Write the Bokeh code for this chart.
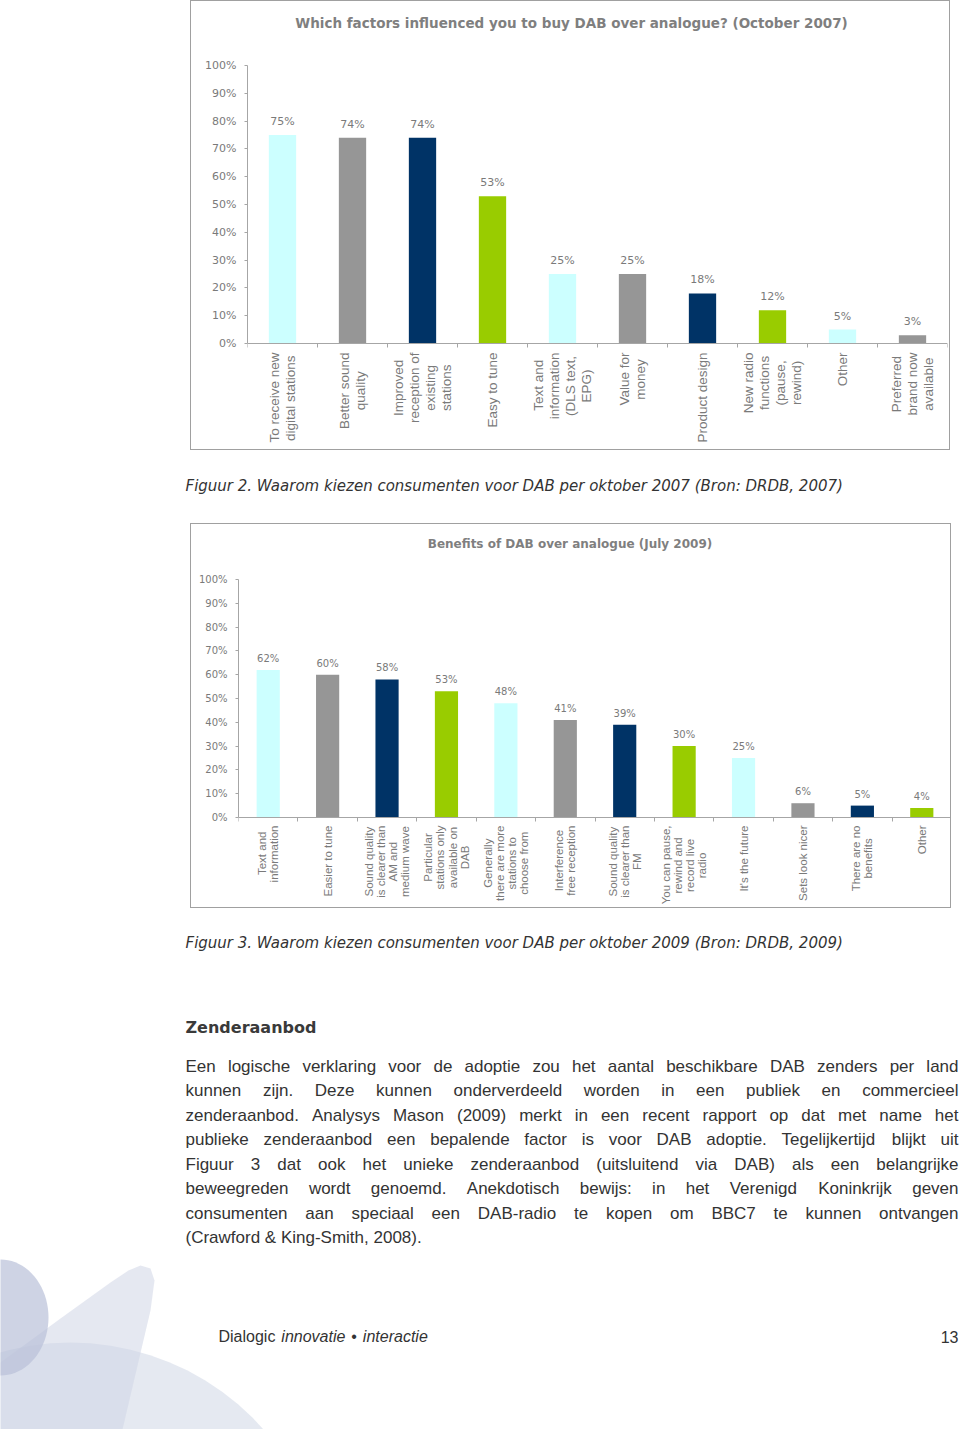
import math
from bokeh.plotting import figure
from bokeh.models import Range1d, FixedTicker, NumeralTickFormatter, ColumnDataSource, Spacer
from bokeh.layouts import column, row
from bokeh.embed import file_html
from bokeh.resources import INLINE
from bokeh.core.properties import value

# ---------------- data ----------------
fig2_title = "Which factors influenced you to buy DAB over analogue? (October 2007)"
fig2_categories = [
    "To receive new\ndigital stations",
    "Better sound\nquality",
    "Improved\nreception of\nexisting\nstations",
    "Easy to tune",
    "Text and\ninformation\n(DLS text,\nEPG)",
    "Value for\nmoney",
    "Product design",
    "New radio\nfunctions\n(pause,\nrewind)",
    "Other",
    "Preferred\nbrand now\navailable",
]
fig2_values = [0.75, 0.74, 0.74, 0.53, 0.25, 0.25, 0.18, 0.12, 0.05, 0.03]

fig3_title = "Benefits of DAB over analogue (July 2009)"
fig3_categories = [
    "Text and\ninformation",
    "Easier to tune",
    "Sound quality\nis clearer than\nAM and\nmedium wave",
    "Particular\nstations only\navailable on\nDAB",
    "Generally\nthere are more\nstations to\nchoose from",
    "Interference\nfree reception",
    "Sound quality\nis clearer than\nFM",
    "You can pause,\nrewind and\nrecord live\nradio",
    "It's the future",
    "Sets look nicer",
    "There are no\nbenefits",
    "Other",
]
fig3_values = [0.62, 0.60, 0.58, 0.53, 0.48, 0.41, 0.39, 0.30, 0.25, 0.06, 0.05, 0.04]

bar_palette = ["#CCFFFF", "#969696", "#003366", "#99CC00"]
y_ticks = [0.0, 0.1, 0.2, 0.3, 0.4, 0.5, 0.6, 0.7, 0.8, 0.9, 1.0]

caption_2007 = "Figuur 2. Waarom kiezen consumenten voor DAB per oktober 2007 (Bron: DRDB, 2007)"
caption_2009 = "Figuur 3. Waarom kiezen consumenten voor DAB per oktober 2009 (Bron: DRDB, 2009)"
heading = "Zenderaanbod"
paragraph_lines = [
    "Een logische verklaring voor de adoptie zou het aantal beschikbare DAB zenders per land",
    "kunnen zijn. Deze kunnen onderverdeeld worden in een publiek en commercieel",
    "zenderaanbod. Analysys Mason (2009) merkt in een recent rapport op dat met name het",
    "publieke zenderaanbod een bepalende factor is voor DAB adoptie. Tegelijkertijd blijkt uit",
    "Figuur 3 dat ook het unieke zenderaanbod (uitsluitend via DAB) als een belangrijke",
    "beweegreden wordt genoemd. Anekdotisch bewijs: in het Verenigd Koninkrijk geven",
    "consumenten aan speciaal een DAB-radio te kopen om BBC7 te kunnen ontvangen",
    "(Crawford & King-Smith, 2008).",
]
footer_parts = [("Dialogic", "normal"), ("innovatie", "italic"), ("\u2022", "normal"), ("interactie", "italic")]
page_number = "13"

# ---------------- styling helpers ----------------
AXIS_GREY = "#a6a6a6"
TEXT_GREY = "#7a7a7a"
BORDER = "1px solid #a0a0a0"

ARIAL = {" ": 278, "!": 278, "&": 667, "'": 191, "(": 333, ")": 333, ",": 278, "-": 333, ".": 278,
         ":": 278, "\u2022": 350}
for ch in "0123456789":
    ARIAL[ch] = 556
ARIAL.update(dict(zip("ABCDEFGHIJKLMNOPQRSTUVWXYZ",
                      [667, 667, 722, 722, 667, 611, 778, 722, 278, 500, 667, 556, 833, 722, 778, 667,
                       778, 722, 667, 611, 722, 667, 944, 667, 667, 611])))
ARIAL.update(dict(zip("abcdefghijklmnopqrstuvwxyz",
                      [556, 556, 500, 556, 556, 278, 556, 556, 222, 222, 500, 222, 833, 556, 556, 556,
                       556, 333, 500, 278, 556, 500, 722, 500, 500, 500])))


def text_width(s, size):
    return sum(ARIAL.get(c, 556) for c in s) * size / 1000.0


def bar_chart(title, cats, vals, cfg):
    """cfg holds canvas size and the pixel box of the 0..100% plotting area."""
    n = len(cats)
    w, h = cfg["w"], cfg["h"]
    fl, fr, ft, fb = cfg["fl"], cfg["fr"], cfg["ft"], cfg["fb"]   # canvas px of 0%/100% box
    py = float(fb - ft)              # px per y unit
    px = float(fr - fl) / n          # px per category
    y_top = 1.0 + ft / py            # frame reaches the top of the canvas
    y_bot = -(h - fb) / py           # ... and the bottom of the canvas
    xs = [i + 0.5 for i in range(n)]
    src = ColumnDataSource(dict(
        x=xs, top=vals,
        color=[bar_palette[i % len(bar_palette)] for i in range(n)],
        label=["%d%%" % round(v * 100) for v in vals],
    ))
    p = figure(width=w, height=h, x_range=Range1d(0, n), y_range=Range1d(y_bot, y_top),
               output_backend="svg", toolbar_location=None,
               min_border_left=fl, min_border_right=w - fr,
               min_border_top=0, min_border_bottom=0,
               styles={"border": BORDER})
    p.vbar(x="x", top="top", width=cfg["bar"], fill_color="color", line_color=None, source=src)
    p.text(x="x", y="top", text="label", source=src, text_align="center", text_baseline="bottom",
           y_offset=-cfg["gap"], text_font=value("DejaVu Sans"), text_font_size=cfg["val_fs"],
           text_color=TEXT_GREY)

    # chart title, centred on the whole box
    tx = (cfg["title_x"] - fl) / (fr - fl) * n
    ty = 1.0 + (ft - cfg["title_y"]) / py
    p.text(x=[tx], y=[ty], text=[title], text_align="center", text_baseline="middle",
           text_font=value("DejaVu Sans"), text_font_style="bold", text_font_size=cfg["title_fs"],
           text_color="#7f7f7f")

    # category labels: rotated, lines centred on each other (as in the original)
    lx, ly, lt = [], [], []
    fs, lh = cfg["cat_fs"], cfg["cat_lh"]
    for i, cat in enumerate(cats):
        lines = cat.split("\n")
        m = len(lines)
        lw = [text_width(s, fs) for s in lines]
        block = max(lw)
        for k, (s, wv) in enumerate(zip(lines, lw)):
            lx.append(i + 0.5 + (k - (m - 1) / 2.0) * lh / px)
            ly.append(-(cfg["cat_standoff"] + (block - wv) / 2.0) / py)
            lt.append(s)
    p.text(x="x", y="y", text="text", source=ColumnDataSource(dict(x=lx, y=ly, text=lt)),
           angle=math.pi / 2, text_align="right", text_baseline="middle",
           text_font=value("Liberation Sans"), text_font_size="%.1fpx" % fs, text_color=TEXT_GREY)

    xa = p.xaxis[0]
    xa.fixed_location = 0
    xa.ticker = FixedTicker(ticks=[], minor_ticks=list(range(n + 1)))
    xa.major_label_text_font_size = "0px"
    xa.major_label_standoff = 0
    xa.major_tick_line_color = None
    xa.major_tick_in = 0
    xa.major_tick_out = 0
    xa.minor_tick_line_color = AXIS_GREY
    xa.minor_tick_in = 0
    xa.minor_tick_out = 4
    xa.axis_line_color = AXIS_GREY

    ya = p.yaxis[0]
    ya.bounds = (0, 1)
    ya.ticker = FixedTicker(ticks=y_ticks)
    ya.formatter = NumeralTickFormatter(format="0%")
    ya.axis_line_color = AXIS_GREY
    ya.major_tick_line_color = AXIS_GREY
    ya.major_tick_in = 0
    ya.major_tick_out = 3
    ya.minor_tick_line_color = None
    ya.major_label_standoff = cfg["tick_standoff"]
    ya.major_label_text_font = "DejaVu Sans"
    ya.major_label_text_font_size = cfg["tick_fs"]
    ya.major_label_text_color = TEXT_GREY

    p.xgrid.visible = False
    p.ygrid.visible = False
    p.outline_line_color = None
    p.background_fill_color = "white"
    p.border_fill_color = "white"
    return p


def page_fig(top, height):
    p = figure(width=960, height=height, x_range=Range1d(0, 960), y_range=Range1d(top + height, top),
               output_backend="svg", toolbar_location=None, min_border=0,
               x_axis_location=None, y_axis_location=None)
    p.grid.visible = False
    p.outline_line_color = None
    p.background_fill_color = "white"
    p.border_fill_color = "white"
    return p


# ---------------- charts ----------------
# canvas 1 starts at page (191, 1); canvas 2 at page (191, 524)
chart1 = bar_chart(fig2_title, fig2_categories, fig2_values, dict(
    w=760, h=450, fl=56, fr=756, ft=64, fb=342, bar=0.39, gap=7, val_fs="11px",
    title_x=380, title_y=21, title_fs="13.5px",
    cat_standoff=9, cat_fs=13.5, cat_lh=15.8, tick_standoff=8, tick_fs="11px"))

chart2 = bar_chart(fig3_title, fig3_categories, fig3_values, dict(
    w=761, h=385, fl=47, fr=760, ft=55, fb=293, bar=0.39, gap=6, val_fs="10px",
    title_x=378.5, title_y=19, title_fs="12px",
    cat_standoff=8, cat_fs=11.5, cat_lh=12.2, tick_standoff=8, tick_fs="10px"))

# ---------------- page parts ----------------
mid = page_fig(452, 71)
mid.text(x=[185], y=[485], text=[caption_2007], text_font=value("DejaVu Sans"), text_font_style="italic",
         text_font_size="15px", text_color="#333333", text_baseline="middle", text_align="left")

bottom = page_fig(910, 519)

# decorative shapes (bottom-left)
def ellipse_pts(cx, cy, rx, ry, ang=0.0, n=80):
    xs, ys = [], []
    for k in range(n):
        t = 2 * math.pi * k / n
        ex, ey = rx * math.cos(t), ry * math.sin(t)
        xs.append(cx + ex * math.cos(ang) - ey * math.sin(ang))
        ys.append(cy + ex * math.sin(ang) + ey * math.cos(ang))
    return xs, ys

sx1, sy1 = ellipse_pts(70, 1600, 258, 258)
sx2, sy2 = ellipse_pts(0, 1317, 48, 58)
# leaf / rounded triangle with apex top-right
leaf_x = [0, 60, 110, 128, 140, 150, 154, 150, 122, 0]
leaf_y = [1362, 1318, 1282, 1270, 1265, 1268, 1280, 1310, 1429, 1429]
bottom.patches(xs=[sx1, leaf_x, sx2], ys=[sy1, leaf_y, sy2],
               fill_color=["#dfe3ee", "#cfd5e6", "#b9c1d9"], fill_alpha=[0.8, 0.55, 0.7], line_color=None)

bottom.text(x=[185], y=[942], text=[caption_2009], text_font=value("DejaVu Sans"), text_font_style="italic",
            text_font_size="15px", text_color="#333333", text_baseline="middle", text_align="left")
bottom.text(x=[185], y=[1027], text=[heading], text_font=value("DejaVu Sans"), text_font_style="bold",
            text_font_size="16px", text_color="#3a3a3a", text_baseline="middle", text_align="left")

# justified paragraph, one text item per word
BODY_FS = 17
LEFT, RIGHT = 185, 958
wx, wy, wt = [], [], []
for i, line in enumerate(paragraph_lines):
    words = line.split(" ")
    widths = [text_width(w, BODY_FS) for w in words]
    y = 1066 + i * 24.45
    last = i == len(paragraph_lines) - 1
    if last or len(words) == 1:
        gap = text_width(" ", BODY_FS)
    else:
        gap = (RIGHT - LEFT - sum(widths)) / (len(words) - 1)
    x = LEFT
    for w, ww in zip(words, widths):
        wx.append(x)
        wy.append(y)
        wt.append(w)
        x += ww + gap
bottom.text(x=wx, y=wy, text=wt, text_font=value("Liberation Sans"), text_font_size="%dpx" % BODY_FS,
            text_color="#333333", text_baseline="middle", text_align="left")

# footer
FOOT_FS = 16
fx = 218
space = text_width(" ", FOOT_FS) + 1.5
for part, style in footer_parts:
    bottom.text(x=[fx], y=[1336], text=[part], text_font=value("Liberation Sans"), text_font_style=style,
                text_font_size="%dpx" % FOOT_FS, text_color="#333333", text_baseline="middle",
                text_align="left")
    fx += text_width(part, FOOT_FS) + space
bottom.text(x=[958], y=[1336], text=[page_number], text_font=value("Liberation Sans"),
            text_font_size="%dpx" % FOOT_FS, text_color="#333333", text_baseline="middle",
            text_align="right")

layout = column(
    row(Spacer(width=190, height=452), chart1),
    mid,
    row(Spacer(width=190, height=387), chart2),
    bottom,
)

open("out.html", "w").write(file_html(layout, INLINE))
